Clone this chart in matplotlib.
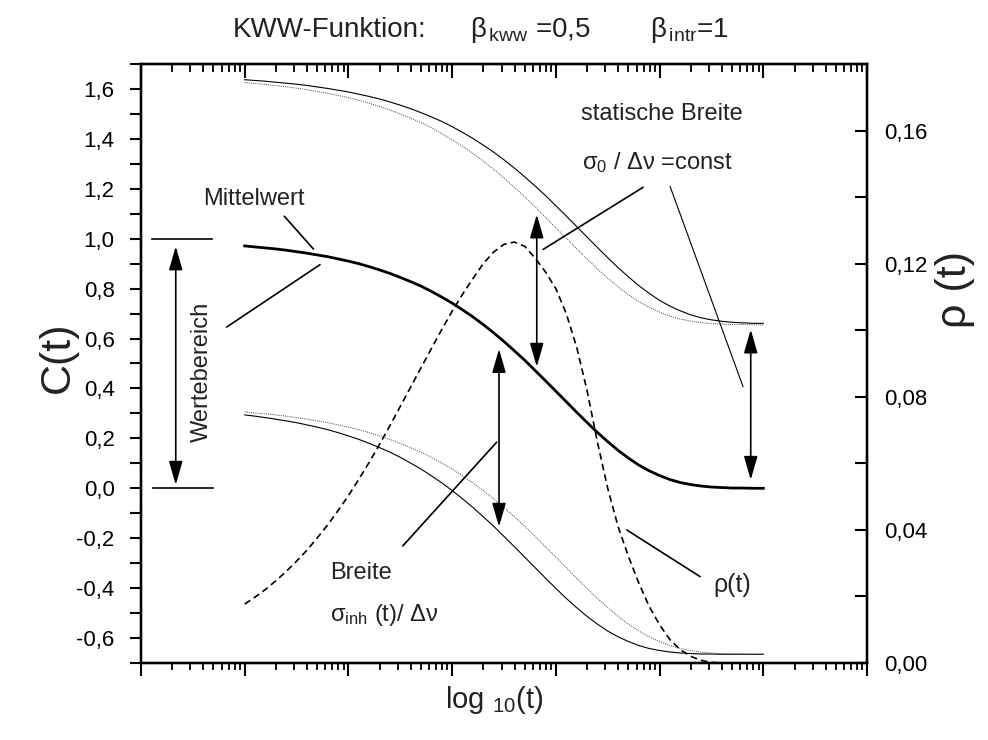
import numpy as np
import matplotlib
matplotlib.use("Agg")
import matplotlib.pyplot as plt
from matplotlib.ticker import LogLocator, NullFormatter, MultipleLocator, FuncFormatter

plt.rcParams["font.family"] = ["Liberation Sans", "DejaVu Sans"]
plt.rcParams["mathtext.fontset"] = "custom"
plt.rcParams["mathtext.rm"] = "Liberation Sans"
plt.rcParams["mathtext.it"] = "Liberation Sans:italic"
plt.rcParams["mathtext.bf"] = "Liberation Sans:bold"

# log10(t) Stuetzstellen (1,0 ... 6,0)
log_t = [1.0, 1.1, 1.2, 1.3, 1.4, 1.5, 1.6, 1.7, 1.8, 1.9,
         2.0, 2.1, 2.2, 2.3, 2.4, 2.5, 2.6, 2.7, 2.8, 2.9,
         3.0, 3.1, 3.2, 3.3, 3.4, 3.5, 3.6, 3.7, 3.8, 3.9,
         4.0, 4.1, 4.2, 4.3, 4.4, 4.5, 4.6, 4.7, 4.8, 4.9,
         5.0, 5.1, 5.2, 5.3, 5.4, 5.5, 5.6, 5.7, 5.8, 5.9, 6.0]

# Mittelwert C(t)
c_mean = [0.971, 0.967, 0.963, 0.959, 0.954, 0.948, 0.942, 0.935, 0.928, 0.919,
          0.910, 0.900, 0.888, 0.875, 0.861, 0.845, 0.828, 0.810, 0.789, 0.766,
          0.742, 0.715, 0.687, 0.656, 0.623, 0.588, 0.551, 0.513, 0.472, 0.431,
          0.389, 0.347, 0.305, 0.264, 0.224, 0.187, 0.152, 0.121, 0.093, 0.070,
          0.051, 0.035, 0.023, 0.015, 0.009, 0.005, 0.003, 0.001, 0.001, 0.000, 0.000]

# obere Kurven (statische Breite / Breite)
c_up_solid = [1.637, 1.634, 1.631, 1.627, 1.623, 1.619, 1.614, 1.608, 1.602, 1.595,
              1.588, 1.579, 1.570, 1.560, 1.548, 1.535, 1.521, 1.505, 1.488, 1.470,
              1.449, 1.426, 1.402, 1.375, 1.347, 1.316, 1.283, 1.248, 1.211, 1.173,
              1.132, 1.091, 1.049, 1.007, 0.965, 0.924, 0.884, 0.847, 0.812, 0.781,
              0.753, 0.730, 0.711, 0.695, 0.683, 0.675, 0.669, 0.665, 0.663, 0.661, 0.661]
c_up_dot = [1.626, 1.622, 1.618, 1.614, 1.609, 1.603, 1.597, 1.590, 1.583, 1.574,
            1.565, 1.555, 1.543, 1.530, 1.516, 1.500, 1.483, 1.465, 1.444, 1.421,
            1.397, 1.370, 1.342, 1.311, 1.278, 1.243, 1.206, 1.168, 1.127, 1.086,
            1.044, 1.002, 0.960, 0.919, 0.879, 0.842, 0.807, 0.776, 0.748, 0.725,
            0.706, 0.690, 0.678, 0.670, 0.664, 0.660, 0.658, 0.656, 0.656, 0.655, 0.655]

# untere Kurven
c_low_dot = [0.306, 0.302, 0.298, 0.294, 0.289, 0.283, 0.277, 0.270, 0.263, 0.254,
             0.245, 0.235, 0.223, 0.210, 0.196, 0.180, 0.163, 0.145, 0.124, 0.101,
             0.077, 0.050, 0.022, -0.009, -0.042, -0.077, -0.114, -0.152, -0.193, -0.234,
             -0.276, -0.318, -0.360, -0.401, -0.441, -0.478, -0.513, -0.544, -0.572, -0.595,
             -0.614, -0.630, -0.642, -0.650, -0.656, -0.660, -0.662, -0.664, -0.664, -0.665, -0.665]
c_low_solid = [0.294, 0.289, 0.283, 0.277, 0.270, 0.263, 0.254, 0.245, 0.235, 0.223,
               0.210, 0.196, 0.180, 0.163, 0.145, 0.124, 0.101, 0.077, 0.050, 0.022,
               -0.009, -0.042, -0.077, -0.114, -0.152, -0.193, -0.234, -0.276, -0.318, -0.360,
               -0.401, -0.441, -0.478, -0.513, -0.544, -0.572, -0.595, -0.614, -0.630, -0.642,
               -0.650, -0.656, -0.660, -0.662, -0.664, -0.664, -0.665, -0.665, -0.665, -0.665, -0.665]

# Verteilung rho(t), rechte Achse (1,0 ... 5,6)
log_t_rho = log_t[:47]
rho = [0.0177, 0.0198, 0.0221, 0.0247, 0.0275, 0.0306, 0.0339, 0.0376, 0.0415, 0.0458,
       0.0503, 0.0552, 0.0603, 0.0657, 0.0713, 0.0771, 0.0829, 0.0887, 0.0945, 0.1002,
       0.1057, 0.1108, 0.1155, 0.1200, 0.1235, 0.1258, 0.1265, 0.1252, 0.1217, 0.1175,
       0.1125, 0.1050, 0.0950, 0.0820, 0.0665, 0.0525, 0.0410, 0.0320, 0.0240, 0.0170,
       0.0115, 0.0070, 0.0040, 0.0020, 0.0008, 0.0002, 0.0000]

t = 10 ** np.array(log_t)
t_rho = 10 ** np.array(log_t_rho)

fig = plt.figure(figsize=(9.88, 7.40), dpi=100)
ax = fig.add_axes([141 / 988, 1 - 663 / 740, 726 / 988, 599 / 740])
axt = ax.twiny()
axr = ax.twinx()

ax.plot(t, c_mean, color="black", lw=2.0)
ax.plot(t, c_up_solid, color="black", lw=0.8)
ax.plot(t, c_low_solid, color="black", lw=0.8)
ax.plot(t, c_up_dot, color="#444444", lw=0.7, linestyle=(0, (1, 1.2)))
ax.plot(t, c_low_dot, color="#444444", lw=0.7, linestyle=(0, (1, 1.2)))
axr.plot(t_rho, rho, color="black", lw=1.2, linestyle=(0, (4, 2.5)))

ax.set_xscale("log")
ax.set_xlim(1, 1e7)
ax.set_ylim(-0.7, 1.7)
axt.set_xscale("log")
axt.set_xlim(1, 1e7)
axr.set_ylim(0, 0.18)


def komma(v, pos, nd=1):
    return f"{v:.{nd}f}".replace(".", ",")


for a in (ax, axt):
    a.xaxis.set_major_locator(LogLocator(base=10, numticks=100))
    a.xaxis.set_minor_locator(LogLocator(base=10, subs=np.arange(2, 10), numticks=100))
    a.xaxis.set_major_formatter(NullFormatter())
    a.xaxis.set_minor_formatter(NullFormatter())

ax.yaxis.set_major_locator(MultipleLocator(0.2))
ax.yaxis.set_minor_locator(MultipleLocator(0.1))
ax.yaxis.set_major_formatter(FuncFormatter(lambda v, p: komma(v, p, 1)))
axr.yaxis.set_major_locator(MultipleLocator(0.04))
axr.yaxis.set_minor_locator(MultipleLocator(0.02))
axr.yaxis.set_major_formatter(FuncFormatter(lambda v, p: komma(v, p, 2)))

ax.tick_params(axis="x", which="major", direction="out", length=9, width=1.5)
ax.tick_params(axis="x", which="minor", direction="out", length=5, width=1.3)
ax.tick_params(axis="y", which="both", direction="out", length=8, width=1.5,
               labelsize=16, pad=11)
axt.tick_params(axis="x", which="major", direction="in", length=10, width=1.5)
axt.tick_params(axis="x", which="minor", direction="in", length=6, width=1.3)
axr.tick_params(axis="y", which="both", direction="in", length=9, width=1.5,
                labelsize=16, pad=12)

for a in (ax, axt, axr):
    for s in a.spines.values():
        s.set_linewidth(1.6)

# Beschriftungen im Diagramm
txt = dict(fontsize=17, color="#222222")
ax.text(10 ** 0.598, 1.158, "Mittelwert", ha="left", va="center", **txt)
ax.text(10 ** 0.585, 0.467, "Wertebereich", ha="center", va="center", rotation=90, **txt)
ax.text(10 ** 5.024, 1.50, "statische Breite", ha="center", va="center", **txt)
ax.text(10 ** 4.253, 1.305, r"σ$_0$ / Δν =const", ha="left", va="center", **txt)
ax.text(10 ** 1.823, -0.339, "Breite", ha="left", va="center", **txt)
ax.text(10 ** 1.823, -0.507, r"σ$_{\mathrm{inh}}$ (t)/ Δν", ha="left", va="center", **txt)
ax.text(10 ** 5.516, -0.388, "ρ(t)", ha="left", va="center", fontsize=18, color="#222222")

# Hinweislinien
zeiger = [((1.382, 1.090), (1.662, 0.959), 1.2),
          ((0.826, 0.646), (1.726, 0.896), 1.2),
          ((3.877, 0.957), (4.841, 1.206), 1.2),
          ((5.101, 1.210), (5.805, 0.407), 0.8),
          ((2.524, -0.231), (3.430, 0.185), 1.2),
          ((4.684, -0.167), (5.391, -0.354), 1.2)]
for (l1, c1), (l2, c2), lw in zeiger:
    ax.annotate("", xy=(10 ** l2, c2), xytext=(10 ** l1, c1),
                arrowprops=dict(arrowstyle="-", lw=lw, color="black",
                                shrinkA=0, shrinkB=0))

# Wertebereich Begrenzungen
ax.plot([10 ** 0.103, 10 ** 0.682], [1.0, 1.0], color="black", lw=1.2)
ax.plot([10 ** 0.116, 10 ** 0.694], [0.0, 0.0], color="black", lw=1.2)

# Doppelpfeile
pfeile = [(0.335, 0.969, 0.014), (3.816, 1.097, 0.487),
          (5.879, 0.636, 0.034), (3.452, 0.558, -0.154)]
for l, c1, c2 in pfeile:
    ax.annotate("", xy=(10 ** l, c2), xytext=(10 ** l, c1),
                arrowprops=dict(arrowstyle="<|-|>,head_length=1.45,head_width=0.42",
                                lw=1.2, color="black", shrinkA=0, shrinkB=0))

# Titel und Achsenbeschriftungen
titel = dict(fontsize=20, color="#222222", ha="left", va="center")
fig.text(233 / 988, 1 - 30 / 740, "KWW-Funktion:", **titel)
fig.text(470 / 988, 1 - 30 / 740, r"β$_{\,\mathrm{kww}}$ =0,5", **titel)
fig.text(650 / 988, 1 - 30 / 740, r"β$_{\,\mathrm{intr}}$=1", **titel)
fig.text(58 / 988, 1 - 357 / 740, "C(t)", rotation=90, ha="center", va="center",
         fontsize=31, color="#222222")
fig.text(955 / 988, 1 - 290 / 740, "ρ (t)", rotation=90, ha="center", va="center",
         fontsize=31, color="#222222")
fig.text(494 / 988, 1 - 700 / 740, r"log $_{10}$(t)", ha="center", va="center",
         fontsize=21, color="#222222")

fig.savefig("out.png", dpi=100)
